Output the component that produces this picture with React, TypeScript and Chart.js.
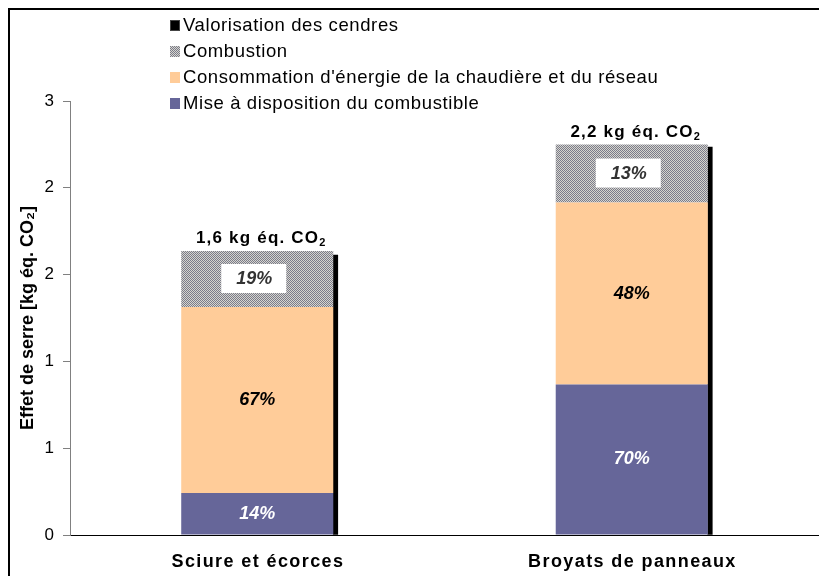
import React, { useEffect, useRef } from 'react';
import { Chart, registerables } from 'chart.js';

Chart.register(...registerables);

const categories = ['Sciure et écorces', 'Broyats de panneaux'];
const miseADisposition = [0.29, 1.04];
const consommation = [1.286, 1.258];
const combustion = [0.387, 0.401];
const valorisationCendres = [1.935, 2.682];
const pctMise = ['14%', '70%'];
const pctConso = ['67%', '48%'];
const pctCombustion = ['19%', '13%'];
const totalLabels = ['1,6', '2,2'];
const yTickValues = [0, 0.6, 1.2, 1.8, 2.4, 3];
const yTickLabels = ['0', '1', '1', '2', '2', '3'];
const seriesNames = [
  'Mise à disposition du combustible',
  "Consommation d'énergie de la chaudière et du réseau",
  'Combustion',
  'Valorisation des cendres',
];

const FONT = '"Liberation Sans", Arial, sans-serif';
const MAIN_FRAC = 0.406;
const ASH_FRAC = 0.012;
const ASH_THICKNESS = 4.5;

function makePattern(): CanvasPattern | string {
  const c = document.createElement('canvas');
  c.width = 2;
  c.height = 2;
  const g = c.getContext('2d');
  if (!g) return '#999';
  g.fillStyle = '#d6d6cc';
  g.fillRect(0, 0, 2, 2);
  g.fillStyle = '#7a7a8c';
  g.fillRect(0, 0, 1, 1);
  g.fillRect(1, 1, 1, 1);
  const p = g.createPattern(c, 'repeat');
  return p || '#999';
}

const labelsPlugin = {
  id: 'customLabels',
  afterDraw(chart: any) {
    const ctx = chart.ctx as CanvasRenderingContext2D;
    const ds = chart.data.datasets;
    // legend
    const order = [3, 2, 1, 0];
    ctx.save();
    order.forEach((di, k) => {
      const baseY = 31 + k * 26;
      ctx.fillStyle = ds[di].backgroundColor;
      ctx.fillRect(170, baseY - 11, 10, 11);
      if (di === 3) {
        ctx.strokeStyle = '#444';
        ctx.lineWidth = 1;
        ctx.strokeRect(170.5, baseY - 10.5, 9, 10);
      }
      ctx.save();
      (ctx as any).letterSpacing = '0.6px';
      ctx.fillStyle = '#000';
      ctx.font = `18.5px ${FONT}`;
      ctx.textAlign = 'left';
      ctx.textBaseline = 'alphabetic';
      ctx.fillText(ds[di].label, 183, baseY);
      ctx.restore();
    });
    ctx.restore();

    // x category labels
    const xs = chart.scales.x;
    ctx.save();
    (ctx as any).letterSpacing = '1.4px';
    ctx.font = `bold 18px ${FONT}`;
    ctx.fillStyle = '#000';
    ctx.textAlign = 'center';
    ctx.textBaseline = 'alphabetic';
    categories.forEach((lab, i) => {
      ctx.fillText(lab, xs.getPixelForTick(i) + 0.7, xs.top + 32);
    });
    ctx.restore();

    // segment labels
    const mMise = chart.getDatasetMeta(0).data;
    const mConso = chart.getDatasetMeta(1).data;
    const mComb = chart.getDatasetMeta(2).data;
    for (let i = 0; i < categories.length; i++) {
      ctx.save();
      ctx.textAlign = 'center';
      ctx.textBaseline = 'middle';
      ctx.font = `italic bold 18px ${FONT}`;
      const a = mMise[i];
      ctx.fillStyle = '#fff';
      ctx.fillText(pctMise[i], a.x, (a.y + a.base) / 2);
      const b = mConso[i];
      ctx.fillStyle = '#000';
      ctx.fillText(pctConso[i], b.x, (b.y + b.base) / 2);
      const c = mComb[i];
      const cy = (c.y + c.base) / 2;
      ctx.fillStyle = '#fff';
      ctx.fillRect(c.x - 36, cy - 15, 65, 29);
      ctx.fillStyle = '#333';
      ctx.fillText(pctCombustion[i], c.x - 3, cy);
      // total label
      (ctx as any).letterSpacing = '1.2px';
      const main = `${totalLabels[i]} kg éq. CO`;
      ctx.font = `bold 17px ${FONT}`;
      const w1 = ctx.measureText(main).width;
      ctx.font = `bold 11px ${FONT}`;
      const w2 = ctx.measureText('2').width;
      const start = c.x + 4 - (w1 + w2) / 2;
      const by = c.y - 8;
      ctx.textAlign = 'left';
      ctx.textBaseline = 'alphabetic';
      ctx.font = `bold 17px ${FONT}`;
      ctx.fillStyle = '#000';
      ctx.fillText(main, start, by);
      ctx.font = `bold 11px ${FONT}`;
      ctx.fillText('2', start + w1, by + 3);
      ctx.restore();
    }
  },
};

export default function App() {
  const ref = useRef<HTMLCanvasElement | null>(null);
  useEffect(() => {
    if (!ref.current) return;
    const pattern = makePattern();
    const mainOpts = {
      grouped: false,
      stack: 'main',
      categoryPercentage: 1,
      barPercentage: MAIN_FRAC,
      borderWidth: 0,
    };
    const ashShift = (MAIN_FRAC + ASH_FRAC) / 2;
    const chart = new Chart(ref.current, {
      type: 'bar',
      data: {
        labels: categories,
        datasets: [
          { label: seriesNames[0], data: miseADisposition, backgroundColor: '#666699', ...mainOpts },
          { label: seriesNames[1], data: consommation, backgroundColor: '#FFCC99', ...mainOpts },
          { label: seriesNames[2], data: combustion, backgroundColor: pattern as any, ...mainOpts },
          {
            label: seriesNames[3],
            data: valorisationCendres.map((v, i) => ({ x: i + ashShift, y: v })),
            backgroundColor: '#000000',
            xAxisID: 'x2',
            grouped: false,
            stack: 'ash',
            barThickness: ASH_THICKNESS,
            borderWidth: 0,
          },
        ] as any,
      },
      options: {
        animation: false,
        responsive: false,
        devicePixelRatio: 1,
        layout: { padding: { top: 101, right: 0, bottom: 0, left: 0 } },
        plugins: {
          legend: { display: false },
          tooltip: { enabled: false },
          title: { display: false },
        },
        scales: {
          x: {
            offset: true,
            grid: { display: false, drawTicks: false, tickLength: 0 },
            border: { display: true, color: '#000', width: 1 },
            ticks: { display: false },
            afterFit(scale: any) {
              scale.height = 41;
            },
          },
          x2: {
            type: 'linear',
            display: false,
            min: -0.5,
            max: categories.length - 0.5,
            offset: false,
          },
          y: {
            stacked: true,
            min: 0,
            max: 3,
            afterBuildTicks(scale: any) {
              scale.ticks = yTickValues.map((v) => ({ value: v }));
            },
            grid: {
              display: true,
              drawOnChartArea: false,
              drawTicks: true,
              tickLength: 7,
              color: '#808080',
            },
            border: { display: true, color: '#808080', width: 1 },
            ticks: {
              color: '#000',
              font: { family: FONT, size: 17 },
              padding: 9,
              callback: (_v: any, i: number) => yTickLabels[i],
            },
            title: {
              display: true,
              text: 'Effet de serre [kg éq. CO₂]',
              color: '#000',
              font: { family: FONT, size: 18, weight: 'bold' },
              padding: { top: 17, bottom: 0 },
            },
            afterFit(scale: any) {
              scale.width = 70;
            },
          },
        },
      } as any,
      plugins: [labelsPlugin],
    });
    return () => chart.destroy();
  }, []);

  return (
    <>
      <div
        style={{
          position: 'fixed',
          left: 8,
          top: 8,
          width: 900,
          height: 700,
          border: '2px solid #000',
          boxSizing: 'border-box',
        }}
      />
      <canvas
        ref={ref}
        width={819}
        height={576}
        style={{ position: 'fixed', left: 0, top: 0, width: 819, height: 576 }}
      />
    </>
  );
}
